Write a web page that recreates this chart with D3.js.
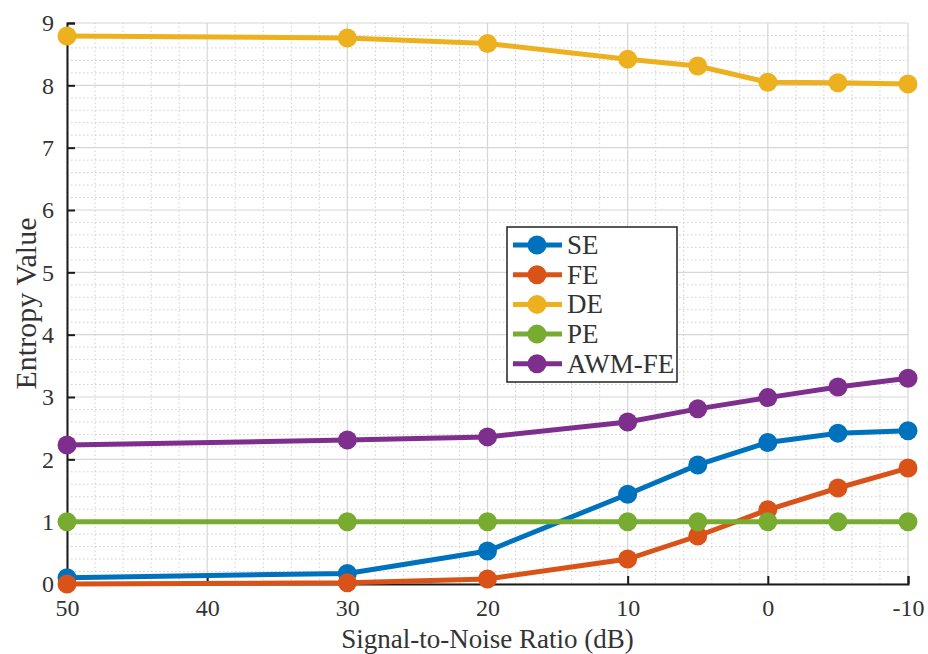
<!DOCTYPE html>
<html>
<head>
<meta charset="utf-8">
<script src="https://cdn.jsdelivr.net/npm/d3@7"></script>
<style>
  body { margin: 0; background: #fff; }
  svg { display: block; font-family: "Liberation Serif", "Times New Roman", serif; }
</style>
</head>
<body>
<div id="chart"></div>
<script>
var snr = [50, 30, 20, 10, 5, 0, -5, -10];
var seValues = [0.10, 0.17, 0.53, 1.44, 1.91, 2.27, 2.42, 2.46];
var feValues = [0.00, 0.02, 0.08, 0.40, 0.77, 1.19, 1.54, 1.86];
var deValues = [8.79, 8.76, 8.67, 8.42, 8.31, 8.05, 8.04, 8.02];
var peValues = [1, 1, 1, 1, 1, 1, 1, 1];
var awmValues = [2.23, 2.31, 2.36, 2.60, 2.81, 2.99, 3.16, 3.30];

var seriesNames = ['SE', 'FE', 'DE', 'PE', 'AWM-FE'];
var seriesColors = ['#0072BD', '#D95319', '#EDB120', '#77AC30', '#7E2F8E'];
var xTicks = [50, 40, 30, 20, 10, 0, -10];
var yTicks = [0, 1, 2, 3, 4, 5, 6, 7, 8, 9];
var xLabel = 'Signal-to-Noise Ratio (dB)';
var yLabel = 'Entropy Value';

(function () {
  var width = 928;
  var height = 654;
  var margin = { top: 23, right: 20, bottom: 70, left: 67 };

  var xScale = d3.scaleLinear().domain([50, -10]).range([margin.left, width - margin.right]);
  var yScale = d3.scaleLinear().domain([0, 9]).range([height - margin.bottom, margin.top]);

  var allValues = [seValues, feValues, deValues, peValues, awmValues];
  var series = seriesNames.map(function (name, i) {
    return {
      name: name,
      color: seriesColors[i],
      points: snr.map(function (s, j) { return { x: s, y: allValues[i][j] }; })
    };
  });

  var svg = d3.select('#chart').append('svg')
      .attr('width', width)
      .attr('height', height);

  // minor grid (dotted)
  var minorX = d3.range(-10, 50.001, 2).filter(function (v) { return v % 10 !== 0; });
  var minorY = d3.range(0, 9.001, 0.2).filter(function (v) { return Math.abs(v - Math.round(v)) > 0.01; });

  var grid = svg.append('g').attr('class', 'grid');
  grid.selectAll('line.minor-x').data(minorX).enter().append('line')
      .attr('class', 'minor-x')
      .attr('x1', function (d) { return xScale(d); })
      .attr('x2', function (d) { return xScale(d); })
      .attr('y1', yScale(0)).attr('y2', yScale(9))
      .attr('stroke', '#cfcfcf').attr('stroke-width', 1).attr('stroke-dasharray', '1.5,2.5');
  grid.selectAll('line.minor-y').data(minorY).enter().append('line')
      .attr('class', 'minor-y')
      .attr('y1', function (d) { return yScale(d); })
      .attr('y2', function (d) { return yScale(d); })
      .attr('x1', xScale(50)).attr('x2', xScale(-10))
      .attr('stroke', '#cfcfcf').attr('stroke-width', 1).attr('stroke-dasharray', '1.5,2.5');

  // major grid
  grid.selectAll('line.major-x').data(xTicks).enter().append('line')
      .attr('class', 'major-x')
      .attr('x1', function (d) { return xScale(d); })
      .attr('x2', function (d) { return xScale(d); })
      .attr('y1', yScale(0)).attr('y2', yScale(9))
      .attr('stroke', '#d6d6d6').attr('stroke-width', 1.2);
  grid.selectAll('line.major-y').data(yTicks).enter().append('line')
      .attr('class', 'major-y')
      .attr('y1', function (d) { return yScale(d); })
      .attr('y2', function (d) { return yScale(d); })
      .attr('x1', xScale(50)).attr('x2', xScale(-10))
      .attr('stroke', '#d6d6d6').attr('stroke-width', 1.2);

  // axes, ticks pointing inward like MATLAB
  var xAxis = d3.axisBottom(xScale).tickValues(xTicks).tickSize(-8).tickPadding(15)
      .tickFormat(function (d) { return d; });
  var yAxis = d3.axisLeft(yScale).tickValues(yTicks).tickSize(-8).tickPadding(13);

  var xAxisEl = svg.append('g').attr('class', 'x-axis')
      .attr('transform', 'translate(0,' + yScale(0) + ')')
      .call(xAxis);
  var yAxisEl = svg.append('g').attr('class', 'y-axis')
      .attr('transform', 'translate(' + xScale(50) + ',0)')
      .call(yAxis);

  [xAxisEl, yAxisEl].forEach(function (a) {
    a.attr('font-family', null);
    a.select('.domain').attr('stroke', '#1a1a1a').attr('stroke-width', 2);
    a.selectAll('.tick line').attr('stroke', '#1a1a1a').attr('stroke-width', 2);
    a.selectAll('.tick text')
        .attr('fill', '#333')
        .style('font-size', '24px')
        .style('font-family', '"Liberation Serif", serif');
  });

  // lines and markers
  var line = d3.line()
      .x(function (d) { return xScale(d.x); })
      .y(function (d) { return yScale(d.y); });

  var seriesEl = svg.selectAll('g.series').data(series).enter().append('g').attr('class', 'series');
  seriesEl.append('path')
      .attr('d', function (d) { return line(d.points); })
      .attr('fill', 'none')
      .attr('stroke', function (d) { return d.color; })
      .attr('stroke-width', 5);
  seriesEl.each(function (s) {
    d3.select(this).selectAll('circle').data(s.points).enter().append('circle')
        .attr('cx', function (d) { return xScale(d.x); })
        .attr('cy', function (d) { return yScale(d.y); })
        .attr('r', 9.5)
        .attr('fill', s.color);
  });

  // axis labels
  svg.append('text')
      .attr('x', (xScale(50) + xScale(-10)) / 2)
      .attr('y', 648)
      .attr('text-anchor', 'middle')
      .attr('fill', '#333')
      .style('font-size', '27px')
      .text(xLabel);

  svg.append('text')
      .attr('transform', 'translate(36,' + ((yScale(0) + yScale(9)) / 2) + ') rotate(-90)')
      .attr('text-anchor', 'middle')
      .attr('fill', '#333')
      .style('font-size', '30px')
      .text(yLabel);

  // legend
  var legend = svg.append('g').attr('class', 'legend').attr('transform', 'translate(507,227)');
  legend.append('rect')
      .attr('width', 170).attr('height', 155)
      .attr('fill', '#fff').attr('stroke', '#222').attr('stroke-width', 1.5);
  var items = legend.selectAll('g.item').data(series).enter().append('g')
      .attr('class', 'item')
      .attr('transform', function (d, i) { return 'translate(0,' + (18 + i * 29.7) + ')'; });
  items.append('line')
      .attr('x1', 6).attr('x2', 55).attr('y1', 0).attr('y2', 0)
      .attr('stroke', function (d) { return d.color; }).attr('stroke-width', 5);
  items.append('circle')
      .attr('cx', 30).attr('cy', 0).attr('r', 9.5)
      .attr('fill', function (d) { return d.color; });
  items.append('text')
      .attr('x', 60).attr('y', 9)
      .attr('fill', '#333')
      .style('font-size', '27px')
      .text(function (d) { return d.name; });
})();
</script>
</body>
</html>
